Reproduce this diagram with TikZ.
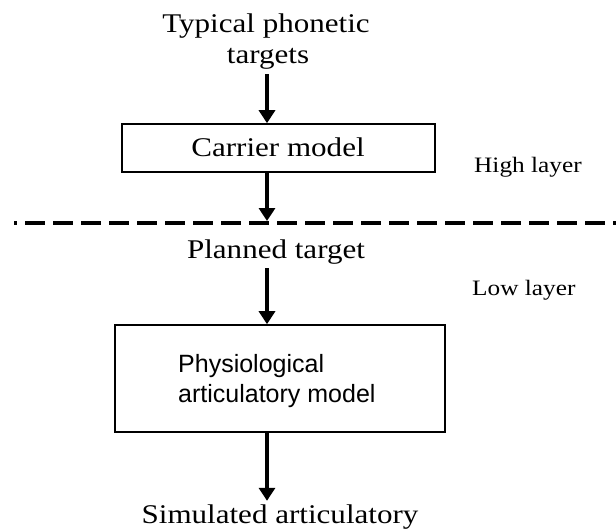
\documentclass[tikz,border=0pt]{standalone}
\usepackage{fontspec}
\setmainfont{Liberation Serif}[FakeStretch=1.15]
\setsansfont{Liberation Sans}
\usetikzlibrary{arrows.meta}
\tikzset{
  lbl/.style={inner sep=0pt, anchor=base, font=\fontsize{27}{30}\selectfont},
  small/.style={inner sep=0pt, anchor=base west, font=\fontsize{22}{26}\selectfont},
  sans/.style={inner sep=0pt, anchor=base west, font=\sffamily\fontsize{25}{28}\selectfont},
  flow/.style={line width=4pt, -{Triangle[width=16pt,length=13pt]}},
  boxline/.style={line width=1.6pt}
}
\begin{document}
\begin{tikzpicture}[x=1pt,y=-1pt]
\useasboundingbox (0,0) rectangle (616,532);
\coordinate (ax) at (267,0);
\node[lbl] (typ) at (266,33) {Typical phonetic};
\node[lbl] (tgt) at (268,64) {targets};
\node[draw, boxline, minimum width=313pt, minimum height=48pt, inner sep=0pt] (carrier) at (278.5,148) {};
\node[lbl] (carriertxt) at (278,157) {Carrier model};
\node[small] (high) at (474,173) {High layer};
\coordinate (dl) at (14,223);
\coordinate (dr) at (616,223);
\draw[line width=3.5pt, dash pattern=on 20pt off 8pt, dash phase=17pt] (dl) -- (dr);
\coordinate (hit) at (267,221);
\node[lbl] (planned) at (276,258) {Planned target};
\node[small] (low) at (472,295) {Low layer};
\node[draw, boxline, minimum width=330pt, minimum height=107pt, inner sep=0pt] (phys) at (280,378.5) {};
\node[sans] (p1) at (178,372) {Physiological};
\node[sans] (p2) at (178,402) {articulatory model};
\node[lbl] (sim) at (280,523) {Simulated articulatory};
\draw[flow] (tgt.south -| ax) ++(0,4) -- (carrier.north -| ax);
\draw[flow] (carrier.south -| ax) -- (hit);
\draw[flow] (planned.south -| ax) ++(0,4) -- (phys.north -| ax);
\draw[flow] (phys.south -| ax) -- ++(0,68);
\end{tikzpicture}
\end{document}
